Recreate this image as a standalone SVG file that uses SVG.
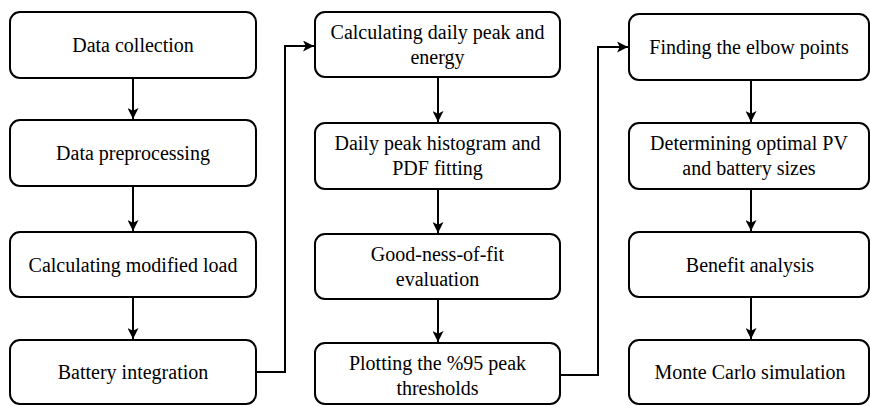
<svg xmlns="http://www.w3.org/2000/svg" width="870" height="406" viewBox="0 0 870 406">
<defs>
<style>
.box{fill:#fff;stroke:#000;stroke-width:2}
.t{font-size:20px;fill:#000;text-anchor:middle}
.c{fill:none;stroke:#000;stroke-width:2}
</style>
<marker id="ah" viewBox="0 0 10 10" refX="10" refY="5" markerWidth="5.5" markerHeight="5.5" orient="auto" markerUnits="strokeWidth">
<path d="M0,0 L10,5 L0,10 L2.5,5 Z" fill="#000"/>
</marker>
</defs>
<rect width="870" height="406" fill="#fff"/>
<g id="connectors">
<path class="c" d="M133,78 V119" marker-end="url(#ah)"/>
<path class="c" d="M133,186 V231" marker-end="url(#ah)"/>
<path class="c" d="M133,297 V339" marker-end="url(#ah)"/>
<path class="c" d="M256,372 H285 V46 H314" marker-end="url(#ah)"/>
<path class="c" d="M438,77 V122" marker-end="url(#ah)"/>
<path class="c" d="M438,189 V233" marker-end="url(#ah)"/>
<path class="c" d="M438,299 V342" marker-end="url(#ah)"/>
<path class="c" d="M560,375 H598 V47 H628" marker-end="url(#ah)"/>
<path class="c" d="M751,80 V122" marker-end="url(#ah)"/>
<path class="c" d="M751,189 V231" marker-end="url(#ah)"/>
<path class="c" d="M751,297 V339" marker-end="url(#ah)"/>
</g>
<g font-family="'Liberation Serif', 'DejaVu Serif', serif">
<g id="n1"><rect class="box" x="10" y="12" width="246" height="66" rx="10"/><text class="t" x="133" y="52">Data collection</text></g>
<g id="n2"><rect class="box" x="10" y="120" width="246" height="66" rx="10"/><text class="t" x="133" y="160">Data preprocessing</text></g>
<g id="n3"><rect class="box" x="10" y="232" width="246" height="65" rx="10"/><text class="t" x="133" y="272">Calculating modified load</text></g>
<g id="n4"><rect class="box" x="10" y="340" width="246" height="64" rx="10"/><text class="t" x="133" y="379">Battery integration</text></g>
<g id="n5"><rect class="box" x="315" y="12" width="245" height="65" rx="10"/><text class="t" x="437.5" y="39">Calculating daily peak and</text><text class="t" x="437.5" y="64">energy</text></g>
<g id="n6"><rect class="box" x="315" y="123" width="245" height="66" rx="10"/><text class="t" x="437.5" y="150">Daily peak histogram and</text><text class="t" x="437.5" y="175">PDF fitting</text></g>
<g id="n7"><rect class="box" x="315" y="234" width="245" height="65" rx="10"/><text class="t" x="437.5" y="261">Good-ness-of-fit</text><text class="t" x="437.5" y="286">evaluation</text></g>
<g id="n8"><rect class="box" x="315" y="343" width="245" height="61" rx="10"/><text class="t" x="437.5" y="370">Plotting the %95 peak</text><text class="t" x="437.5" y="395">thresholds</text></g>
<g id="n9"><rect class="box" x="629" y="14" width="240" height="66" rx="10"/><text class="t" x="749" y="54">Finding the elbow points</text></g>
<g id="n10"><rect class="box" x="629" y="123" width="240" height="66" rx="10"/><text class="t" x="749" y="150">Determining optimal PV</text><text class="t" x="749" y="175">and battery sizes</text></g>
<g id="n11"><rect class="box" x="629" y="232" width="240" height="65" rx="10"/><text class="t" x="750" y="272">Benefit analysis</text></g>
<g id="n12"><rect class="box" x="629" y="340" width="240" height="64" rx="10"/><text class="t" x="750" y="379">Monte Carlo simulation</text></g>
</g>
</svg>
